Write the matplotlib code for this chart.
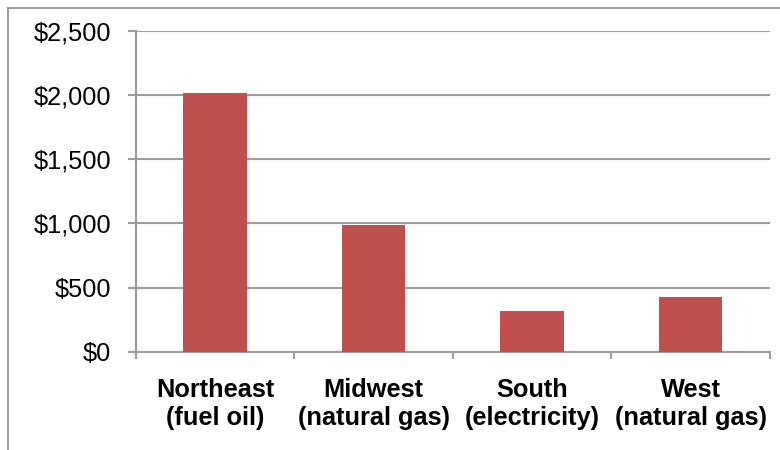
import matplotlib as mpl
import matplotlib.pyplot as plt
from matplotlib.lines import Line2D
from matplotlib.ticker import FuncFormatter

mpl.rcParams['font.family'] = ['Liberation Sans', 'DejaVu Sans']

regions = ['Northeast\n(fuel oil)', 'Midwest\n(natural gas)',
           'South\n(electricity)', 'West\n(natural gas)']
costs = [2015, 985, 315, 425]
yticks = [0, 500, 1000, 1500, 2000, 2500]

grey = '#9d9d9d'
bar_color = '#c0504d'

fig = plt.figure(figsize=(7.8, 4.5), dpi=100)
ax = fig.add_axes([0.174, 0.2184, 0.813, 0.7127])

x = list(range(len(regions)))
ax.bar(x, costs, width=0.4, color=bar_color, zorder=3)

ax.set_xlim(-0.5, len(regions) - 0.5)
ax.set_ylim(0, 2500)
ax.set_yticks(yticks)
ax.yaxis.set_major_formatter(FuncFormatter(lambda v, p: '${:,.0f}'.format(v)))
ax.grid(axis='y', color=grey, linewidth=1.5, zorder=0)

# category labels on major ticks, divider ticks between categories
ax.set_xticks(x)
ax.set_xticklabels(regions, fontsize=18.3, fontweight='bold', linespacing=1.2)
ax.set_xticks([i - 0.5 for i in range(len(regions) + 1)], minor=True)
ax.tick_params(axis='x', which='major', length=0, pad=19)
ax.tick_params(axis='x', which='minor', length=5, width=1.5, color=grey)
ax.tick_params(axis='y', length=6, width=1.5, color=grey, pad=11.5, labelsize=18.3)

for side in ['top', 'right']:
    ax.spines[side].set_visible(False)
for side in ['left', 'bottom']:
    ax.spines[side].set_color(grey)
    ax.spines[side].set_linewidth(1.5)

# outer frame around the chart area
fx = 8 / 780
fy = 1 - 8 / 450
fig.add_artist(Line2D([fx, 1], [fy, fy], color='#8c8c8c', linewidth=1.2))
fig.add_artist(Line2D([fx, fx], [0, fy], color='#8c8c8c', linewidth=1.2))

fig.savefig('out.png', dpi=100)
